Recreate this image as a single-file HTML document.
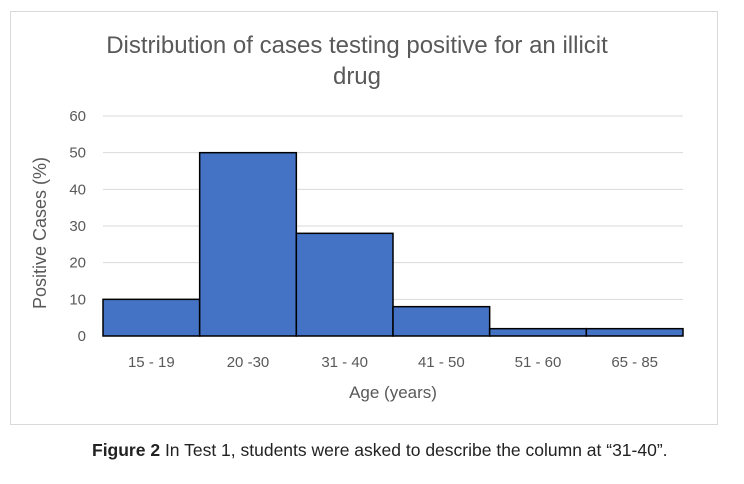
<!DOCTYPE html>
<html><head><meta charset="utf-8"><style>
body{margin:0;background:#fff;width:744px;height:479px;overflow:hidden;font-family:"Liberation Sans",sans-serif}
</style></head><body>
<svg width="744" height="479">
<rect x="10.5" y="11.5" width="707" height="413" fill="#fff" stroke="#d9d9d9"/>
<text x="357" y="53" text-anchor="middle" font-size="24" fill="#595959">Distribution of cases testing positive for an illicit</text>
<text x="357" y="84" text-anchor="middle" font-size="24" fill="#595959">drug</text>
<g id="grid"></g><g id="bars"></g><g id="xl"></g>
<text transform="translate(46,233) rotate(-90)" text-anchor="middle" font-size="18" fill="#595959">Positive Cases (%)</text>
<text x="393" y="398" text-anchor="middle" font-size="17" fill="#595959">Age (years)</text>
<text x="92" y="456" font-size="17.5" fill="#222"><tspan font-weight="bold">Figure 2</tspan> In Test 1, students were asked to describe the column at “31-40”.</text>
</svg>
<script>
const categories=["15 - 19","20 -30","31 - 40","41 - 50","51 - 60","65 - 85"];
const values=[10,50,28,8,2,2];
const yTicks=[0,10,20,30,40,50,60];
const X0=103,X1=683,Y0=336,Y1=116,ymax=60;
const ns="http://www.w3.org/2000/svg";
const y=v=>Y0-(v/ymax)*(Y0-Y1);
const bw=(X1-X0)/categories.length;
const x=i=>X0+i*bw;
const g=document.getElementById('grid'),b=document.getElementById('bars'),xl=document.getElementById('xl');
function mk(t,a,p){const e=document.createElementNS(ns,t);for(const k in a)e.setAttribute(k,a[k]);p.appendChild(e);return e;}
yTicks.forEach(t=>{
 const l=mk('line',{x1:X0,x2:X1,y1:y(t),y2:y(t),stroke:'#d9d9d9','stroke-width':1},g);
 
 
 const tx=mk('text',{x:86,y:y(t)+5,'text-anchor':'end','font-size':15,fill:'#595959'},g);
 tx.textContent=t;
 
 
});
values.forEach((v,i)=>{
 const r=mk('rect',{x:x(i),y:y(v),width:bw,height:Y0-y(v),fill:'#4472c4',stroke:'#000','stroke-width':1.5},b);
 
 
 const t=mk('text',{x:x(i)+bw/2,y:367,'text-anchor':'middle','font-size':15,fill:'#595959'},xl);
 t.textContent=categories[i];
 
 
});
</script>
</body></html>
